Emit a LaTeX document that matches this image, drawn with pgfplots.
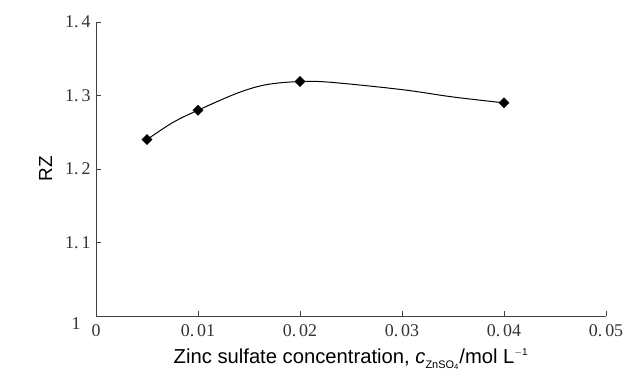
\documentclass[border=0pt]{standalone}
\usepackage{fontspec}
\setmainfont{Liberation Serif}
\newfontfamily\labelfont{Liberation Sans}
\usepackage{pgfplots}
\pgfplotsset{compat=1.18}
\begin{document}
\begin{tikzpicture}[x=1bp,y=1bp]
\useasboundingbox (-96,-62) rectangle (532,316);
\begin{axis}[
  at={(0,0)}, anchor=origin,
  scale only axis, width=510bp, height=294bp,
  xmin=0, xmax=0.05, ymin=1, ymax=1.4,
  scaled ticks=false,
  axis x line=bottom, axis y line=left,
  axis line style={-, draw=black!75, line width=0.8pt},
  tick align=inside, major tick length=5bp,
  tick style={draw=black!75, line width=0.7pt},
  xtick={0,0.01,0.02,0.03,0.04,0.05},
  xticklabels={0,0.\,01,0.\,02,0.\,03,0.\,04,0.\,05},
  ytick={1,1.1,1.2,1.3,1.4},
  yticklabels={\smash{\makebox[0pt][r]{\raisebox{-13bp}{1}\kern10bp}},1.\,1,1.\,2,1.\,3,1.\,4},
  ticklabel style={font=\fontsize{18}{18}\selectfont, text=black!80},
  xticklabel style={yshift=-5bp},
  yticklabel style={xshift=-2bp},
  xlabel={\labelfont\fontsize{20.3}{21}\selectfont Zinc sulfate concentration, \textit{c}\textsubscript{\raisebox{-2bp}{\fontsize{11}{11}\selectfont ZnSO\textsubscript{4}}}/mol L\textsuperscript{\fontsize{10}{10}\selectfont $-$1}},
  ylabel={\labelfont\fontsize{19}{19}\selectfont RZ},
  xlabel style={yshift=-5bp},
  ylabel style={yshift=6bp},
  clip=false,
]
\addplot[black, line width=1pt, smooth, tension=0.55] coordinates {
 (0.005,1.24) (0.0075,1.263) (0.01,1.28) (0.014,1.304) (0.0168,1.315) (0.02,1.319) (0.023,1.318) (0.03,1.308) (0.035,1.298) (0.04,1.29)};
\addplot[only marks, mark=square*, mark size=3.6bp, black, mark options={rotate=45}] coordinates {
 (0.005,1.24) (0.01,1.28) (0.02,1.319) (0.04,1.29)};
\end{axis}
\end{tikzpicture}
\end{document}
